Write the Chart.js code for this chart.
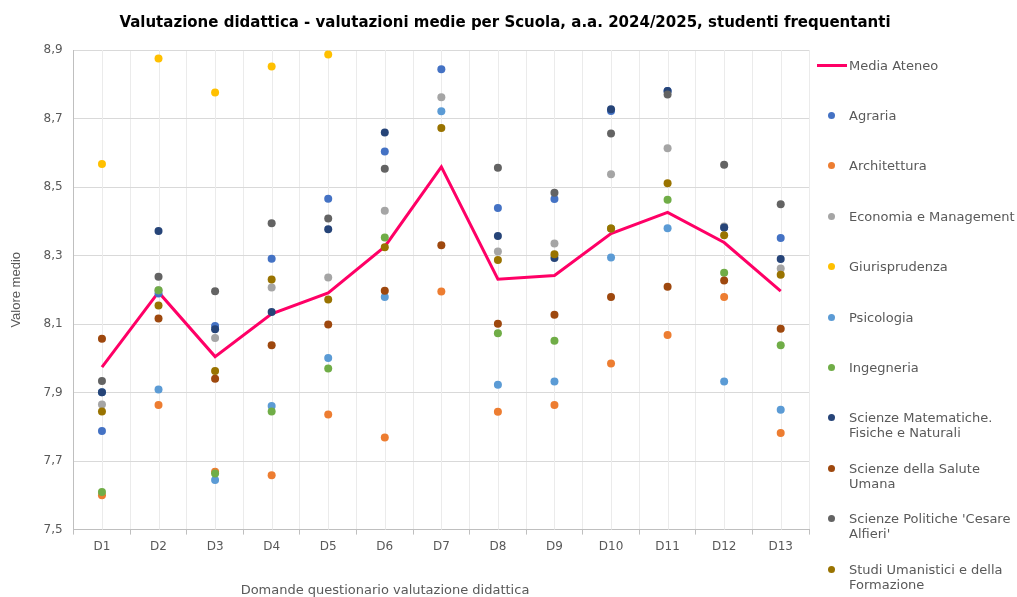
<!DOCTYPE html>
<html>
<head>
<meta charset="utf-8">
<script src="https://cdn.jsdelivr.net/npm/chart.js@4/dist/chart.umd.min.js"></script>
<style>
	body { margin: 0; background: #fff; }
	#wrap { position: relative; width: 1017px; height: 597px; }
	#title { position: absolute; left: 0; top: 13px; width: 1010px; text-align: center; font-family: 'DejaVu Sans', sans-serif; font-weight: bold; font-size: 15px; line-height: 18px; color: #000; white-space: nowrap; }
	#xtitle { position: absolute; left: 185px; top: 582px; width: 400px; text-align: center; font-family: 'DejaVu Sans', sans-serif; font-size: 13px; line-height: 15px; color: #595959; white-space: nowrap; }
	#legend { position: absolute; left: 0; top: 0; font-family: 'DejaVu Sans', sans-serif; font-size: 13px; color: #595959; }
	.item { position: absolute; left: 849px; line-height: 15px; white-space: nowrap; }
	.mark { position: absolute; }
</style>
</head>
<body>
<div id="wrap">
	<canvas id="schoolsChart" width="1017" height="597"></canvas>
	<div id="title">Valutazione didattica - valutazioni medie per Scuola, a.a. 2024/2025, studenti frequentanti</div>
	<div id="xtitle">Domande questionario valutazione didattica</div>
	<div id="legend"></div>
</div>
<script>

const questions = ['D1', 'D2', 'D3', 'D4', 'D5', 'D6', 'D7', 'D8', 'D9', 'D10', 'D11', 'D12', 'D13'];

const mediaAteneo = [7.974, 8.193, 8.005, 8.130, 8.191, 8.326, 8.559, 8.231, 8.242, 8.364, 8.426, 8.338, 8.196];

const agraria = [7.788, 8.189, 8.094, 8.291, 8.466, 8.604, 8.844, 8.439, 8.465, 8.722, 8.780, 8.382, 8.351];
const architettura = [7.600, 7.864, 7.669, 7.659, 7.836, 7.769, 8.195, 7.844, 7.864, 7.985, 8.068, 8.179, 7.782];
const economia = [7.865, 8.199, 8.059, 8.207, 8.236, 8.431, 8.762, 8.312, 8.335, 8.537, 8.613, 8.385, 8.262];
const giurisprudenza = [8.567, 8.875, 8.776, 8.852, 8.887, null, null, null, null, null, null, null, null];
const psicologia = [7.901, 7.909, 7.645, 7.861, 8.001, 8.179, 8.721, 7.923, 7.932, 8.294, 8.380, 7.932, 7.850];
const ingegneria = [7.610, 8.199, 7.664, 7.845, 7.970, 8.353, null, 8.073, 8.051, 8.379, 8.463, 8.250, 8.038];
const scienzeMat = [7.901, 8.372, 8.085, 8.135, 8.377, 8.659, null, 8.357, 8.293, 8.727, 8.780, 8.382, 8.290];
const scienzeSalute = [8.057, 8.116, 7.940, 8.038, 8.099, 8.197, 8.330, 8.101, 8.127, 8.179, 8.209, 8.227, 8.086];
const scienzePolitiche = [7.934, 8.238, 8.196, 8.394, 8.408, 8.553, null, 8.556, 8.483, 8.656, 8.770, 8.565, 8.450];
const studiUmanistici = [7.845, 8.154, 7.963, 8.230, 8.172, 8.324, 8.672, 8.287, 8.304, 8.379, 8.511, 8.359, 8.244];

const schoolNames = [
	['Agraria'],
	['Architettura'],
	['Economia e Management'],
	['Giurisprudenza'],
	['Psicologia'],
	['Ingegneria'],
	['Scienze Matematiche.', 'Fisiche e Naturali'],
	['Scienze della Salute', 'Umana'],
	["Scienze Politiche 'Cesare", "Alfieri'"],
	['Studi Umanistici e della', 'Formazione']
];
const schoolValues = [agraria, architettura, economia, giurisprudenza, psicologia, ingegneria, scienzeMat, scienzeSalute, scienzePolitiche, studiUmanistici];
const schoolColors = ['#4472C4', '#ED7D31', '#A5A5A5', '#FFC000', '#5B9BD5', '#70AD47', '#264478', '#9E480E', '#636363', '#997300'];

const yTicks = [7.5, 7.7, 7.9, 8.1, 8.3, 8.5, 8.7, 8.9];

function addSchoolsChart() {

	let datasets = [{
		label: 'Media Ateneo',
		data: mediaAteneo,
		borderColor: '#FF0066',
		borderWidth: 3,
		pointRadius: 0,
		tension: 0,
		order: 20,
	}];

	schoolValues.forEach((values, i) => {
		datasets.push({
			label: schoolNames[i].join(' '),
			data: values,
			showLine: false,
			backgroundColor: schoolColors[i],
			borderColor: schoolColors[i],
			pointRadius: 4,
			pointBorderWidth: 0,
			pointHoverRadius: 4,
			order: 10 - i,
		});
	});

	// light vertical lines on the category centres
	let centerGrid = {
		id: 'centerGrid',
		beforeDatasetsDraw(chart) {
			let ctx = chart.ctx;
			let x = chart.scales.x;
			let area = chart.chartArea;
			ctx.save();
			ctx.strokeStyle = '#EBEBEB';
			ctx.lineWidth = 1;
			questions.forEach((q, i) => {
				let px = Math.round(x.getPixelForValue(i)) + 0.5;
				ctx.beginPath();
				ctx.moveTo(px, area.top);
				ctx.lineTo(px, area.bottom);
				ctx.stroke();
			});
			ctx.restore();
		}
	};

	let ctx = document.getElementById('schoolsChart').getContext('2d');
	let myChart = new Chart(ctx, {
		type: 'line',
		data: {
			labels: questions,
			datasets: datasets,
		},
		options: {
			responsive: false,
			animation: false,
			layout: {
				padding: { left: 0, right: 208, top: 50, bottom: 38 },
			},
			plugins: {
				legend: { display: false },
				tooltip: { enabled: false },
				title: { display: false },
			},
			scales: {
				x: {
					offset: true,
					grid: {
						offset: true,
						color: '#EBEBEB',
						tickColor: '#BFBFBF',
						tickLength: 5,
					},
					border: { color: '#BFBFBF' },
					ticks: {
						color: '#595959',
						font: { family: 'DejaVu Sans', size: 12 },
						padding: 5,
						maxRotation: 0,
					},
				},
				y: {
					min: 7.5,
					max: 8.9,
					afterBuildTicks: (axis) => {
						axis.ticks = yTicks.map(v => ({ value: v }));
					},
					grid: {
						color: '#D9D9D9',
						drawTicks: false,
					},
					border: { color: '#BFBFBF' },
					ticks: {
						color: '#595959',
						font: { family: 'DejaVu Sans', size: 12 },
						padding: 11,
						callback: (v) => Number(v).toFixed(1).replace('.', ','),
					},
					title: {
						display: true,
						text: 'Valore medio',
						color: '#595959',
						font: { family: 'Liberation Sans', size: 13 },
						padding: { top: 9, bottom: 8 },
					},
				},
			},
		},
		plugins: [centerGrid],
	});

}

function addLegend() {

	let legend = document.getElementById('legend');
	let entries = [{ name: ['Media Ateneo'], color: '#FF0066', line: true }];
	schoolNames.forEach((n, i) => entries.push({ name: n, color: schoolColors[i], line: false }));

	entries.forEach((e, i) => {
		let cy = 65 + i * 50.4;
		let mark = document.createElement('div');
		mark.className = 'mark';
		if (e.line) {
			mark.style.cssText = 'left:817px;top:' + (cy - 1.5) + 'px;width:30px;height:3px;background:' + e.color;
		} else {
			mark.style.cssText = 'left:827.5px;top:' + (cy - 3.5) + 'px;width:7px;height:7px;border-radius:50%;background:' + e.color;
		}
		legend.appendChild(mark);
		let item = document.createElement('div');
		item.className = 'item';
		item.style.top = (cy - 7.5) + 'px';
		item.innerHTML = e.name.join('<br>');
		legend.appendChild(item);
	});

}

addSchoolsChart();
addLegend();

</script>
</body>
</html>
